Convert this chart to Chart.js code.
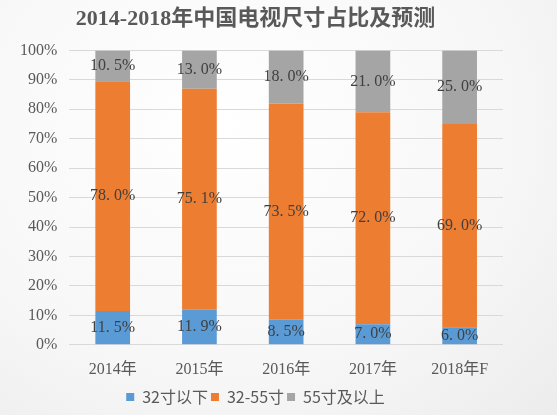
<!DOCTYPE html>
<html><head><meta charset="utf-8">
<script src="https://cdn.jsdelivr.net/npm/chart.js@4"></script>
<style>
html,body{margin:0;padding:0;}
body{width:557px;height:415px;background:radial-gradient(ellipse at 40% 30%,#ffffff 0%,#f7f7f7 60%,#ececec 100%);}
#wrap{position:relative;width:557px;height:415px;}
</style></head>
<body><div id="wrap"><canvas id="c"></canvas></div>
<script>
const categories = ['2014年','2015年','2016年','2017年','2018年F'];
const below32 = [11.5, 11.9, 8.5, 7.0, 6.0];
const mid32to55 = [78.0, 75.1, 73.5, 72.0, 69.0];
const above55 = [10.5, 13.0, 18.0, 21.0, 25.0];
const seriesNames = ['32寸以下','32-55寸','55寸及以上'];
const titleText = '2014-2018年中国电视尺寸占比及预测';

const serif = "'Liberation Serif','Noto Sans CJK SC',serif";

const labelPlugin = {
  id:'labels',
  afterDatasetsDraw(chart){
    const ctx = chart.ctx;
    ctx.save();
    ctx.font = "16px " + serif;
    ctx.fillStyle = '#404040';
    ctx.textAlign = 'center';
    ctx.textBaseline = 'middle';
    chart.data.datasets.forEach((ds,i)=>{
      chart.getDatasetMeta(i).data.forEach((bar,j)=>{
        const y = (bar.y + bar.base)/2;
        ctx.fillText(ds.data[j].toFixed(1).replace('.', '. ') + '%', bar.x, y);
      });
    });
    ctx.restore();
  }
};

new Chart(document.getElementById('c'), {
  type:'bar',
  data:{
    labels:categories,
    datasets:[
      {label:seriesNames[0], data:below32, backgroundColor:'#5B9BD5'},
      {label:seriesNames[1], data:mid32to55, backgroundColor:'#ED7D31'},
      {label:seriesNames[2], data:above55, backgroundColor:'#A5A5A5'}
    ]
  },
  options:{
    responsive:true, maintainAspectRatio:false, animation:false,
    layout:{padding:{left:8,right:54,top:0,bottom:0}},
    datasets:{bar:{categoryPercentage:1, barPercentage:0.4}},
    plugins:{
      title:{display:true, text:titleText, color:'#595959', font:{family:serif, size:22, weight:'bold'}, padding:{top:6,bottom:18}},
      legend:{position:'bottom', labels:{boxWidth:8, boxHeight:8, color:'#595959', font:{family:"'Noto Sans CJK SC',sans-serif", size:16}, padding:3}},
      tooltip:{enabled:false}
    },
    scales:{
      x:{stacked:true, grid:{display:false}, border:{display:false}, ticks:{color:'#595959', font:{family:serif, size:16}, padding:7}},
      y:{stacked:true, min:0, max:100, ticks:{stepSize:10, color:'#595959', font:{family:serif, size:16}, callback:v=>v+'%', padding:12},
         grid:{color:'#d9d9d9', drawTicks:false}, border:{display:false}}
    }
  },
  plugins:[labelPlugin]
});
</script></body></html>
